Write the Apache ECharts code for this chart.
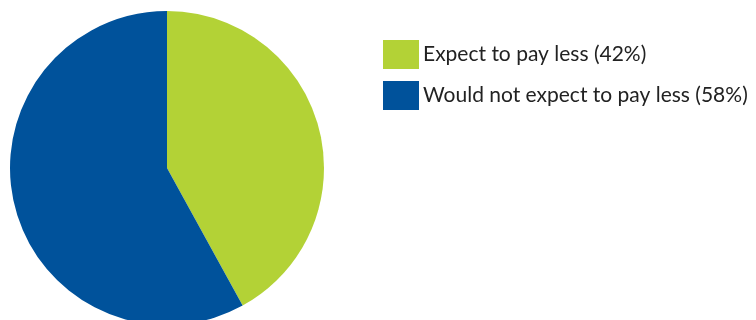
<!DOCTYPE html>
<html>
<head>
<meta charset="utf-8">
<style>
  html, body { margin: 0; padding: 0; background: #ffffff; }
  #chart { width: 756px; height: 320px; }
</style>
<script src="https://cdn.jsdelivr.net/npm/echarts@6/dist/echarts.min.js"></script>
</head>
<body>
<div id="chart"></div>
<script>
// Survey answer shares
const categories = ['Expect to pay less (42%)', 'Would not expect to pay less (58%)'];
const shares = [42, 58];
const colors = ['#b3d236', '#00529b'];

const chart = echarts.init(document.getElementById('chart'), null, { renderer: 'canvas' });

chart.setOption({
  animation: false,
  color: colors,
  legend: {
    orient: 'vertical',
    left: 383,
    top: 40,
    padding: 0,
    itemWidth: 36,
    itemHeight: 29,
    itemGap: 12,
    icon: 'rect',
    selectedMode: false,
    textStyle: {
      fontFamily: 'Lato',
      fontSize: 21,
      color: '#222222',
      padding: [0, 0, 0, -1]
    },
    data: categories
  },
  series: [{
    type: 'pie',
    center: [167, 168],
    radius: 157,
    startAngle: 90,
    clockwise: true,
    label: { show: false },
    labelLine: { show: false },
    emphasis: { disabled: true },
    itemStyle: { borderWidth: 0 },
    data: categories.map((name, i) => ({ name, value: shares[i] }))
  }]
});
</script>
</body>
</html>
